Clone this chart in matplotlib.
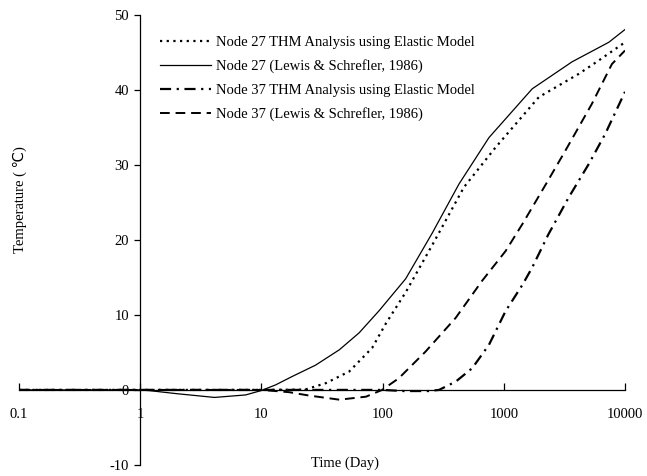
import matplotlib
matplotlib.use("Agg")
import matplotlib.pyplot as plt
import numpy as np

plt.rcParams["font.family"] = ["Liberation Serif", "DejaVu Serif"]
plt.rcParams["axes.unicode_minus"] = False

# Node 27, THM analysis (elastic model)
t27_thm = [0.1, 1, 10, 23, 34, 53, 82, 106, 155, 257, 469, 855, 1946, 4160, 6100, 10000]
T27_thm = [0, 0, 0, 0.05, 0.9, 2.45, 5.6, 8.8, 13.0, 19.3, 27.0, 32.3, 39.0, 42.1, 43.9, 46.3]

# Node 27, Lewis & Schrefler (1986)
t27_ls = [0.1, 1, 1.2, 2, 4.1, 7.4, 9.9, 13.1, 18, 28, 44, 64, 93, 155, 257, 426, 754, 1715, 3660, 7350, 10000]
T27_ls = [0, 0, -0.1, -0.5, -1.0, -0.67, -0.1, 0.67, 1.8, 3.3, 5.35, 7.6, 10.5, 14.8, 20.9, 27.4, 33.6, 40.1, 43.7, 46.3, 48.0]

# Node 37, THM analysis (elastic model)
t37_thm = [0.1, 1, 10, 100, 150, 240, 292, 401, 549, 754, 1035, 1425, 1715, 2330, 3420, 5030, 6870, 10000]
T37_thm = [0, 0, 0, 0, -0.15, -0.15, 0, 1.1, 2.9, 6.0, 10.5, 14.0, 16.3, 20.7, 25.6, 30.1, 34.1, 39.7]

# Node 37, Lewis & Schrefler (1986)
t37_ls = [0.1, 1, 10, 16.9, 24.7, 44, 73, 99, 136, 226, 401, 660, 1035, 1425, 2225, 3230, 5330, 7800, 10000]
T37_ls = [0, 0, 0, -0.3, -0.75, -1.3, -0.9, 0, 1.55, 5.1, 9.6, 14.5, 18.5, 22.1, 27.4, 31.9, 38.1, 43.4, 45.2]

xticks = [0.1, 1, 10, 100, 1000, 10000]
xtick_labels = ["0.1", "1", "10", "100", "1000", "10000"]
yticks = [-10, 0, 10, 20, 30, 40, 50]

fig = plt.figure(figsize=(6.47, 4.76), dpi=100)
ax = fig.add_axes([19 / 647, 1 - 465 / 476, 606 / 647, 450.5 / 476])

ax.plot(t27_thm, T27_thm, color="black", lw=1.6, linestyle=(0, (1, 2)),
        label="Node 27 THM Analysis using Elastic Model")
ax.plot(t27_ls, T27_ls, color="black", lw=0.9, linestyle="-",
        label="Node 27 (Lewis & Schrefler, 1986)")
ax.plot(t37_thm, T37_thm, color="black", lw=1.6, linestyle=(0, (5, 2.5, 1, 2.5)),
        label="Node 37 THM Analysis using Elastic Model")
ax.plot(t37_ls, T37_ls, color="black", lw=1.4, linestyle=(0, (5, 3)),
        label="Node 37 (Lewis & Schrefler, 1986)")

ax.set_xscale("log")
ax.set_xlim(0.1, 10000)
ax.set_ylim(-10, 50)
ax.set_xticks(xticks)
ax.set_xticklabels(xtick_labels)
ax.xaxis.set_minor_locator(matplotlib.ticker.NullLocator())
ax.set_yticks(yticks)

ax.spines["top"].set_visible(False)
ax.spines["right"].set_visible(False)
ax.spines["left"].set_position(("data", 1))
ax.spines["bottom"].set_position(("data", 0))
ax.spines["left"].set_linewidth(0.9)
ax.spines["bottom"].set_linewidth(0.9)

ax.tick_params(axis="x", direction="in", length=5, width=0.9, pad=13, labelsize=10.5)
ax.tick_params(axis="y", direction="out", length=4, width=0.9, pad=4, labelsize=10.5)

fig.text(345 / 647, 1 - 463 / 476, "Time (Day)", ha="center", va="center", fontsize=10.5)
fig.text(20 / 647, 1 - 200 / 476, "Temperature ( \u2103)", ha="center", va="center",
         rotation=90, fontsize=10.5, family=["Liberation Serif", "DejaVu Sans"])

leg = ax.legend(loc="upper left", bbox_to_anchor=(160 / 647, 1 - 36 / 476),
                bbox_transform=fig.transFigure, frameon=False, fontsize=10.5,
                handlelength=3.5, handletextpad=0.35, labelspacing=0.7,
                borderpad=0, borderaxespad=0)

fig.savefig("out.png", dpi=100)
